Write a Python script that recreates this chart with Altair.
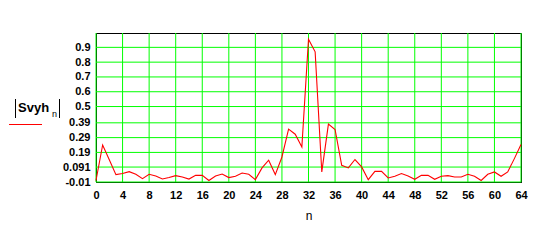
import altair as alt
import pandas as pd

n_vals = list(range(65))
svyh = [0.0, 0.24, 0.14, 0.04, 0.047, 0.06, 0.042, 0.013, 0.042, 0.03,
        0.01, 0.02, 0.033, 0.024, 0.01, 0.035, 0.035, 0.0, 0.03, 0.044,
        0.02, 0.029, 0.051, 0.042, 0.006, 0.085, 0.137, 0.04, 0.159, 0.347,
        0.313, 0.227, 0.955, 0.87, 0.058, 0.381, 0.345, 0.103, 0.085, 0.142,
        0.092, 0.006, 0.062, 0.062, 0.017, 0.029, 0.047, 0.03, 0.008, 0.035,
        0.035, 0.008, 0.029, 0.033, 0.024, 0.024, 0.042, 0.029, 0.0, 0.042,
        0.058, 0.029, 0.058, 0.148, 0.243]
y_ticks = [-0.01, 0.091, 0.19, 0.29, 0.39, 0.5, 0.6, 0.7, 0.8, 0.9]
x_ticks = list(range(0, 65, 4))

df = pd.DataFrame({"n": n_vals, "v": svyh})

FONT = "Liberation Sans"
xs = alt.Scale(domain=[0, 64], nice=False, zero=False)
ys = alt.Scale(domain=[-0.01, 0.997], nice=False, zero=False)

x_axis = alt.Axis(values=x_ticks, grid=False, ticks=False, domainColor="black",
                  labelFont=FONT, labelFontWeight="bold", labelFontSize=11,
                  labelColor="black", labelPadding=7, labelFlush=False,
                  title="n", titleFont=FONT, titleFontSize=12,
                  titleFontWeight="normal", titlePadding=10, titleColor="black")
y_axis = alt.Axis(values=y_ticks, grid=False, ticks=False, domainColor="black",
                  labelFont=FONT, labelFontWeight="bold", labelFontSize=11,
                  labelColor="black", labelPadding=6, labelFlush=False,
                  labelExpr="'' + datum.value", title=None)

vgrid = alt.Chart(pd.DataFrame({"n": x_ticks})).mark_rule(color="#00ff00", strokeWidth=1).encode(
    x=alt.X("n:Q", scale=xs, axis=x_axis))
hgrid = alt.Chart(pd.DataFrame({"v": y_ticks})).mark_rule(color="#00ff00", strokeWidth=1).encode(
    y=alt.Y("v:Q", scale=ys, axis=y_axis))

line = alt.Chart(df).mark_line(color="#ff0000", strokeWidth=1.1).encode(
    x=alt.X("n:Q", scale=xs, axis=x_axis),
    y=alt.Y("v:Q", scale=ys, axis=y_axis),
)

anchor = alt.Chart(pd.DataFrame({"a": [0]}))

left_bar = anchor.mark_rule(color="black", strokeWidth=1).encode(
    x=alt.value(-80.5), y=alt.value(66), y2=alt.value(85))
right_bar = anchor.mark_rule(color="black", strokeWidth=1).encode(
    x=alt.value(-36.5), y=alt.value(66), y2=alt.value(85))
name_txt = anchor.mark_text(text="Svyh", font=FONT, fontWeight="bold", fontSize=13,
                            align="left", baseline="alphabetic", color="black").encode(
    x=alt.value(-78), y=alt.value(79))
sub_txt = anchor.mark_text(text="n", font=FONT, fontSize=9,
                           align="left", baseline="alphabetic", color="black").encode(
    x=alt.value(-44), y=alt.value(84))
leg_line = anchor.mark_rule(color="#ff0000", strokeWidth=1).encode(
    x=alt.value(-87), x2=alt.value(-54), y=alt.value(91.5))

chart = alt.layer(vgrid, hgrid, line, left_bar, right_bar, name_txt, sub_txt, leg_line).properties(
    width=425, height=149,
    autosize=alt.AutoSizeParams(type="none"),
    padding={"left": 96, "top": 33, "right": 37, "bottom": 60},
    background="white",
).configure_view(stroke="black", strokeWidth=1)

chart.save("out.html", embed_options={"renderer": "svg", "actions": False})
